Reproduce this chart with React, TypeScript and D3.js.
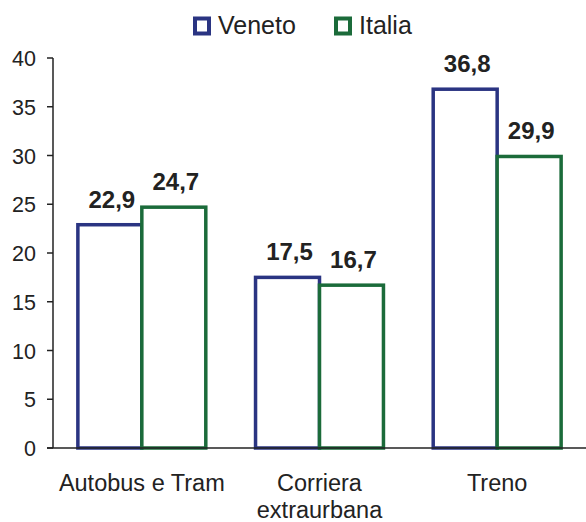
import React from "react";
import * as d3 from "d3";

const categories = ["Autobus e Tram", "Corriera extraurbana", "Treno"];
const categoryLines = [["Autobus e Tram"], ["Corriera", "extraurbana"], ["Treno"]];
const seriesNames = ["Veneto", "Italia"];
const veneto = [22.9, 17.5, 36.8];
const italia = [24.7, 16.7, 29.9];
const yTicks = [0, 5, 10, 15, 20, 25, 30, 35, 40];
const colors = ["#2a3482", "#1b6b3a"];

const W = 586;
const H = 522;
const margin = { left: 53, right: 0, top: 58, bottom: 74 };
const font = "Liberation Sans, Arial, sans-serif";

export default function App() {
  const x = d3
    .scaleBand<string>()
    .domain(categories)
    .range([margin.left, W - margin.right])
    .paddingInner(0.28)
    .paddingOuter(0.14);
  const xs = d3.scaleBand<string>().domain(seriesNames).range([0, x.bandwidth()]);
  const y = d3.scaleLinear().domain([0, 40]).range([H - margin.bottom, margin.top]);
  const series = [veneto, italia];
  const fmt = (v: number) => v.toFixed(1).replace(".", ",");

  return (
    <svg width={W} height={H} style={{ position: "absolute", left: 0, top: 0 }} fontFamily={font}>
      <rect width={W} height={H} fill="#fff" />
      {/* legend */}
      {seriesNames.map((s, i) => {
        const lx = [195, 336][i];
        return (
          <g key={s}>
            <rect x={lx} y={18.5} width={14} height={15} fill="#fff" stroke={colors[i]} strokeWidth={4} />
            <text x={lx + 23} y={34} fontSize={25} fill="#222">{s}</text>
          </g>
        );
      })}
      {/* bars */}
      {categories.map((c, ci) =>
        series.map((vals, si) => {
          const bx = (x(c) ?? 0) + (xs(seriesNames[si]) ?? 0);
          const v = vals[ci];
          return (
            <g key={c + si}>
              <rect
                x={bx}
                y={y(v)}
                width={xs.bandwidth()}
                height={y(0) - y(v)}
                fill="#fff"
                stroke={colors[si]}
                strokeWidth={3.5}
              />
              <text
                x={bx + xs.bandwidth() / 2 + 2}
                y={y(v) - 17}
                textAnchor="middle"
                fontSize={24}
                fontWeight="bold"
                fill="#222"
              >
                {fmt(v)}
              </text>
            </g>
          );
        })
      )}
      {/* y axis */}
      <line x1={margin.left} x2={margin.left} y1={y(40)} y2={y(0)} stroke="#222" strokeWidth={1.5} />
      {yTicks.map((t) => (
        <g key={t}>
          <line x1={margin.left - 6} x2={margin.left} y1={y(t)} y2={y(t)} stroke="#222" strokeWidth={1.5} />
          <text x={margin.left - 17} y={y(t) + 8} textAnchor="end" fontSize={21.5} fill="#222">
            {t}
          </text>
        </g>
      ))}
      {/* x axis */}
      <line x1={margin.left - 6} x2={W} y1={y(0)} y2={y(0)} stroke="#222" strokeWidth={1.5} />
      {categories.map((c, ci) =>
        categoryLines[ci].map((ln, li) => (
          <text
            key={c + li}
            x={(x(c) ?? 0) + x.bandwidth() / 2}
            y={491 + li * 27}
            textAnchor="middle"
            fontSize={23.5}
            fill="#222"
          >
            {ln}
          </text>
        ))
      )}
    </svg>
  );
}
